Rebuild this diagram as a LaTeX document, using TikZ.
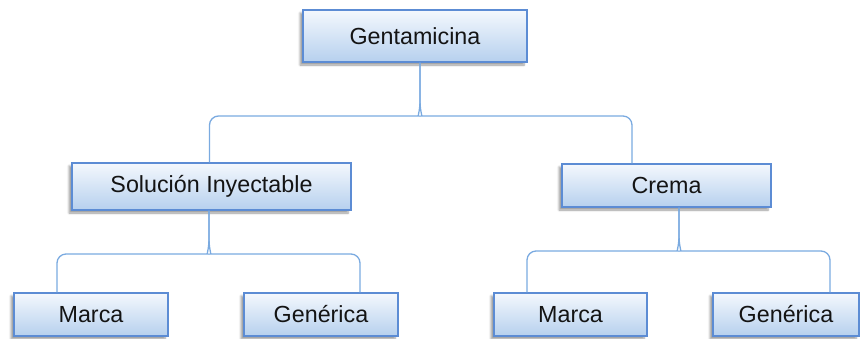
\documentclass[tikz,border=0pt]{standalone}
\usepackage{fontspec}
\setmainfont{Liberation Sans}
\usetikzlibrary{shadows.blur}
\definecolor{boxborder}{RGB}{92,140,212}
\definecolor{boxtop}{RGB}{244,248,253}
\definecolor{boxbot}{RGB}{182,208,238}
\definecolor{connc}{RGB}{122,170,224}
\definecolor{txt}{RGB}{20,20,20}
\tikzset{
  box/.style={draw=boxborder, line width=1.2pt, top color=boxtop, bottom color=boxbot,
    minimum height=#1, inner sep=0pt, text=txt,
    font=\fontsize{23.3}{28}\selectfont,
    blur shadow={shadow xshift=-3pt, shadow yshift=-3pt, shadow blur steps=6, shadow opacity=40}},
  box/.default=43pt,
  conn/.style={draw=connc, line width=1.3pt, rounded corners=9pt}
}
\begin{document}
\begin{tikzpicture}[x=1pt,y=-1pt]
\useasboundingbox (0,0) rectangle (861,338);
\node[box=52pt, minimum width=224pt] (gent) at (415,36) {Gentamicina};
\node[box=47pt, minimum width=279pt] (sol) at (211.5,186.5) {Solución Inyectable};
\node[box=43pt, minimum width=209pt] (crema) at (666.5,185.5) {Crema};
\node[box=43pt, minimum width=154pt] (m1) at (91,314.5) {Marca};
\node[box=43pt, minimum width=154pt] (g1) at (321,314.5) {Genérica};
\node[box=43pt, minimum width=153pt] (m2) at (570.5,314.5) {Marca};
\node[box=43pt, minimum width=146pt] (g2) at (786,314.5) {Genérica};
% top level
\draw[conn] ([xshift=-2pt]sol.north) -- (209.5,116) -- (410,116) [rounded corners=0pt] .. controls (417,116) and (420,113) .. (420,100) -- ([xshift=5pt]gent.south);
\draw[conn] ([xshift=-34.5pt]crema.north) -- (632,116) -- (430,116) [rounded corners=0pt] .. controls (423,116) and (420,113) .. (420,100) -- ([xshift=5pt]gent.south);
% solucion
\draw[conn] ([xshift=-34pt]m1.north) -- (57,254) -- (199,254) [rounded corners=0pt] .. controls (206,254) and (209,251) .. (209,238) -- ([xshift=-2.5pt]sol.south);
\draw[conn] ([xshift=39pt]g1.north) -- (360,254) -- (219,254) [rounded corners=0pt] .. controls (212,254) and (209,251) .. (209,238) -- ([xshift=-2.5pt]sol.south);
% crema
\draw[conn] ([xshift=-43.5pt]m2.north) -- (527,251) -- (669,251) [rounded corners=0pt] .. controls (676,251) and (679,248) .. (679,235) -- ([xshift=12.5pt]crema.south);
\draw[conn] ([xshift=44pt]g2.north) -- (830,251) -- (689,251) [rounded corners=0pt] .. controls (682,251) and (679,248) .. (679,235) -- ([xshift=12.5pt]crema.south);
\end{tikzpicture}
\end{document}
